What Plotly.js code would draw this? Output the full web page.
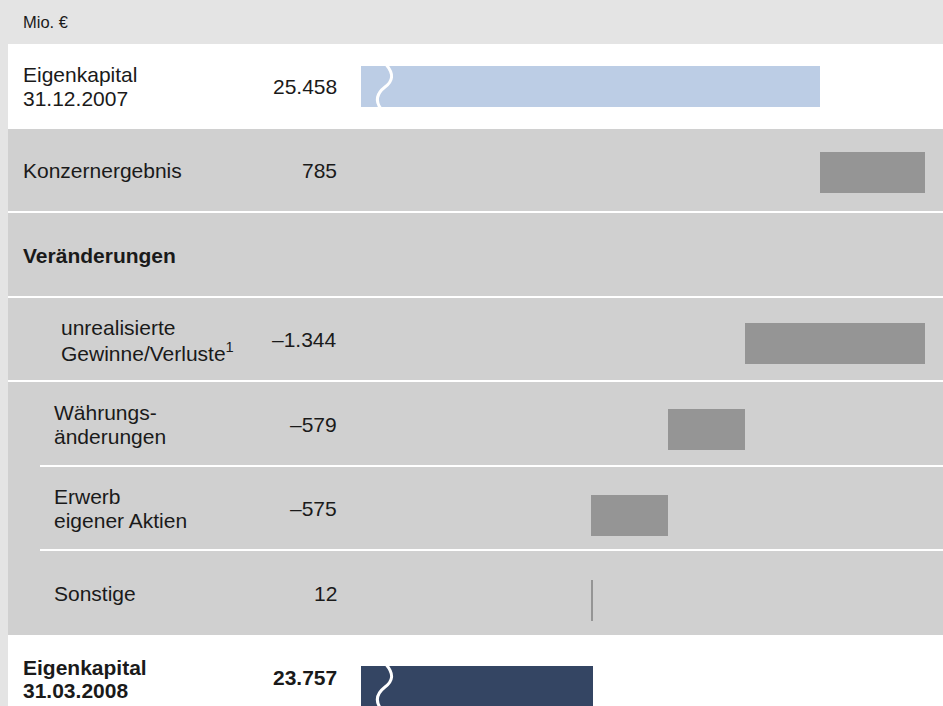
<!DOCTYPE html>
<html>
<head>
<meta charset="utf-8">
<script src="https://cdn.plot.ly/plotly-3.0.1.min.js"></script>
<style>
  html, body { margin: 0; padding: 0; background: #e4e4e4; }
  #chart { width: 943px; height: 706px; }
</style>
</head>
<body>
<div id="chart"></div>
<script>
// ---- data ----
const unitLabel = "Mio. €";
const rowLabels = [
  "Eigenkapital<br>31.12.2007",
  "Konzernergebnis",
  "Veränderungen",
  "unrealisierte<br>Gewinne/Verluste<sup>1</sup>",
  "Währungs-<br>änderungen",
  "Erwerb<br>eigener Aktien",
  "Sonstige",
  "Eigenkapital<br>31.03.2008"
];
const rowValues = [25458, 785, null, -1344, -579, -575, 12, 23757];
const valueLabels = ["25.458", "785", "", "–1.344", "–579", "–575", "12", "23.757"];
const rowKinds = ["start", "delta", "heading", "delta", "delta", "delta", "delta", "end"];

// ---- styling / layout constants ----
const W = 943, H = 706;
const PLOT_LEFT_PX = 361;
const X_RANGE = [22019.4, 26379];
const Y_TEXT_RANGE = [7.338, -1.0245];
const Y_BAR_RANGE = [7.228, -1.009];
const BAR_W = 0.478;
const COLORS = { start: "#bccde5", end: "#344563", delta: "#959595" };
const indentPx = { start: 21, delta: 52, heading: 21, end: 21 };
const indentOverride = { 1: 21, 3: 59 };
const labelShiftPx = { 7: -2 };
const LINE_GAP_ROW = { 7: 23 };
const boldRows = { 2: true, 7: true };
const FONT = "Liberation Sans, Arial, sans-serif";
const TXT = "#1a1a1a";

// ---- bars (waterfall via bases) ----
const barY = [], barX = [], barBase = [], barColor = [];
let running = 0;
rowValues.forEach((v, i) => {
  const k = rowKinds[i];
  if (k === "heading" || v === null) return;
  if (k === "start" || k === "end") {
    barY.push(i); barX.push(v); barBase.push(0); barColor.push(COLORS[k]);
    running = v;
  } else {
    barY.push(i); barX.push(v); barBase.push(running); barColor.push(COLORS.delta);
    running += v;
  }
});

const traces = [{
  type: "bar",
  orientation: "h",
  y: barY, x: barX, base: barBase,
  width: BAR_W,
  marker: { color: barColor, line: { width: 0 } },
  xaxis: "x", yaxis: "y2",
  hoverinfo: "skip"
}];

// ---- background shapes (paper coordinates from pixels) ----
const py = p => 1 - p / H;
const px = p => p / W;
const shapes = [
  { type: "rect", xref: "paper", yref: "paper", x0: px(8), x1: 1, y0: py(129), y1: py(44), fillcolor: "#ffffff", line: { width: 0 }, layer: "below" },
  { type: "rect", xref: "paper", yref: "paper", x0: px(8), x1: 1, y0: py(635), y1: py(129), fillcolor: "#d0d0d0", line: { width: 0 }, layer: "below" },
  { type: "rect", xref: "paper", yref: "paper", x0: px(8), x1: 1, y0: 0, y1: py(635), fillcolor: "#ffffff", line: { width: 0 }, layer: "below" }
];
[[212, 8], [297, 8], [381, 8], [466, 40], [550, 40]].forEach(([yy, xx]) => {
  shapes.push({ type: "line", xref: "paper", yref: "paper", x0: px(xx), x1: 1, y0: py(yy), y1: py(yy),
    line: { color: "#ffffff", width: 2 }, layer: "below" });
});

// ---- axis-break squiggles on the total bars ----
const xPerPx = (X_RANGE[1] - X_RANGE[0]) / (W - PLOT_LEFT_PX);
const yPerPx = (Y_BAR_RANGE[0] - Y_BAR_RANGE[1]) / H;
function squiggle(i) {
  const top = i - BAR_W / 2;
  const P = (dx, dy) => (X_RANGE[0] + dx * xPerPx).toFixed(2) + "," + (top + dy * yPerPx).toFixed(4);
  return "M" + P(25.5, -1) + " C" + P(33, 8) + " " + P(32, 15) + " " + P(24, 21) +
         " C" + P(15, 28) + " " + P(14, 35) + " " + P(20, 43);
}
rowKinds.forEach((k, i) => {
  if (k === "start" || k === "end") {
    shapes.push({ type: "path", xref: "x", yref: "y2", path: squiggle(i),
      line: { color: "#ffffff", width: 3 }, layer: "above" });
  }
});

// ---- text annotations ----
const annotations = [{
  text: unitLabel, xref: "paper", yref: "paper", x: px(21), y: py(22),
  xanchor: "left", yanchor: "middle", showarrow: false,
  font: { family: FONT, size: 16.5, color: TXT }
}];
const LINE_GAP = 24.3;
rowLabels.forEach((lab, i) => {
  const k = rowKinds[i];
  const x0 = indentOverride[i] !== undefined ? indentOverride[i] : indentPx[k];
  const extra = labelShiftPx[i] || 0;
  const gap = LINE_GAP_ROW[i] || LINE_GAP;
  const lines = lab.split("<br>");
  const n = lines.length;
  lines.forEach((ln, j) => {
    const shift = ((n - 1) / 2 - j) * gap + extra;
    annotations.push({
      text: boldRows[i] ? "<b>" + ln + "</b>" : ln,
      xref: "paper", yref: "y", x: px(x0), y: i, yshift: shift,
      xanchor: "left", yanchor: "middle", showarrow: false,
      font: { family: FONT, size: 21, color: TXT }
    });
  });
  if (valueLabels[i]) {
    annotations.push({
      text: boldRows[i] ? "<b>" + valueLabels[i] + "</b>" : valueLabels[i],
      xref: "paper", yref: "y", x: px(339), y: i,
      xanchor: "right", yanchor: "middle", showarrow: false,
      font: { family: FONT, size: 21, color: TXT }
    });
  }
});

const layout = {
  width: W, height: H,
  margin: { l: 0, r: 0, t: 0, b: 0, pad: 0 },
  paper_bgcolor: "#e4e4e4",
  plot_bgcolor: "rgba(0,0,0,0)",
  showlegend: false,
  bargap: 0,
  xaxis: { domain: [PLOT_LEFT_PX / W, 1], range: X_RANGE, visible: false, fixedrange: true },
  yaxis: { domain: [0, 1], range: Y_TEXT_RANGE, visible: false, fixedrange: true },
  yaxis2: { domain: [0, 1], range: Y_BAR_RANGE, overlaying: "y", visible: false, fixedrange: true },
  shapes: shapes,
  annotations: annotations
};

Plotly.newPlot("chart", traces, layout, { displayModeBar: false, staticPlot: true });
</script>
</body>
</html>
